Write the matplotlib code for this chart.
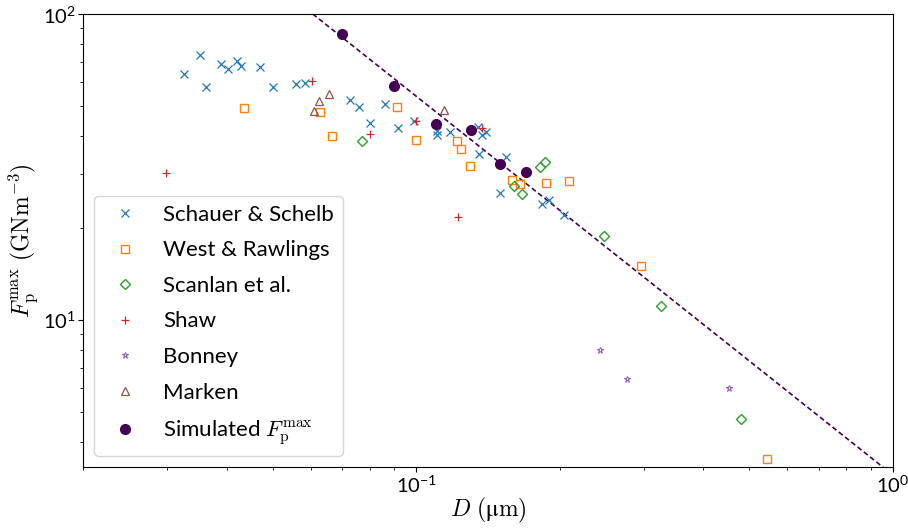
import numpy as np
import matplotlib
matplotlib.use('Agg')
import matplotlib.pyplot as plt

plt.rcParams['mathtext.fontset'] = 'cm'
plt.rcParams['font.family'] = ['Lato', 'DejaVu Sans']

# Schauer & Schelb
ss_D = [0.0326, 0.0352, 0.0362, 0.0389, 0.0403, 0.0421, 0.0428, 0.0469, 0.0501,
        0.0560, 0.0584, 0.0727, 0.0758, 0.0798, 0.0861, 0.0915, 0.0987, 0.1104,
        0.1104, 0.1177, 0.1345, 0.1371, 0.1400, 0.1354, 0.1545, 0.150, 0.1835,
        0.1899, 0.2044]
ss_F = [63.9, 73.8, 57.7, 68.9, 66.2, 70.3, 67.9, 67.4, 58.0,
        59.2, 59.5, 52.4, 49.8, 44.2, 51.0, 42.5, 44.8, 41.5,
        40.3, 41.2, 42.9, 40.4, 41.3, 34.9, 34.2, 26.0, 24.0,
        24.8, 22.1]

# West & Rawlings
wr_D = [0.0434, 0.0627, 0.0667, 0.0909, 0.0998, 0.1215, 0.1239, 0.1298, 0.159,
        0.165, 0.1876, 0.2097, 0.297, 0.545]
wr_F = [49.5, 47.8, 39.9, 49.9, 38.8, 38.6, 36.3, 31.9, 28.7,
        27.9, 28.1, 28.6, 15.0, 3.51]

# Scanlan et al.
sc_D = [0.0769, 0.1605, 0.1671, 0.182, 0.1862, 0.2475, 0.327, 0.4806]
sc_F = [38.5, 27.4, 25.8, 31.6, 32.9, 18.8, 11.1, 4.75]

# Shaw
sh_D = [0.0299, 0.0603, 0.0801, 0.100, 0.1377, 0.1221]
sh_F = [30.3, 60.5, 40.5, 44.7, 42.6, 21.8]

# Bonney
bo_D = [0.2435, 0.2771, 0.4535]
bo_F = [7.96, 6.43, 6.02]

# Marken
ma_D = [0.0609, 0.0624, 0.0656, 0.1145]
ma_F = [48.4, 51.9, 54.7, 48.8]

# simulated peak pinning force
sim_D = [0.07, 0.09, 0.11, 0.13, 0.15, 0.17]
sim_F = [86.4, 58.3, 43.8, 41.8, 32.3, 30.5]

# power law fit F = A * D^k
fit_A = 3.12
fit_k = -1.238

sim_col = '#440154'

fig = plt.figure(figsize=(9.08, 5.31), dpi=100)
ax = fig.add_axes([0.0917, 0.1205, 0.8914, 0.8525])

D_fit = np.logspace(-2, 0.1, 200)
ax.plot(D_fit, fit_A * D_fit**fit_k, ls='--', dashes=(3, 1.8), lw=1.2, color=sim_col)

ax.plot(ss_D, ss_F, ls='none', marker='x', ms=5.5, mew=0.9, color='C0', label='Schauer & Schelb')
ax.plot(wr_D, wr_F, ls='none', marker='s', ms=5.5, mew=1.0, mfc='none', color='C1', label='West & Rawlings')
ax.plot(sc_D, sc_F, ls='none', marker='D', ms=4.6, mew=1.0, mfc='none', color='C2', label='Scanlan et al.')
ax.plot(sh_D, sh_F, ls='none', marker='+', ms=5.5, mew=0.9, color='C3', label='Shaw')
ax.plot(bo_D, bo_F, ls='none', marker='*', ms=5, mew=0.8, mfc='none', color='C4', label='Bonney')
ax.plot(ma_D, ma_F, ls='none', marker='^', ms=5.5, mew=0.9, mfc='none', color='C5', label='Marken')
ax.plot(sim_D, sim_F, ls='none', marker='o', ms=7, color=sim_col, label=r'Simulated $F_\mathrm{p}^\mathrm{max}$')

ax.set_xscale('log')
ax.set_yscale('log')
ax.set_xlim(0.02, 1)
ax.set_ylim(3.31, 100)

ax.tick_params(axis='both', which='major', labelsize=14.5, pad=2)
ax.set_xlabel('$D\\ (\\mathrm{\u03bcm})$', fontsize=17, labelpad=0)
ax.set_ylabel(r'$F_\mathrm{p}^\mathrm{max}\ (\mathrm{GNm}^{-3})$', fontsize=17, labelpad=2)

ax.legend(loc='lower left', fontsize=16, labelspacing=0.7, handletextpad=0.7)

fig.savefig('out.png', dpi=100)
